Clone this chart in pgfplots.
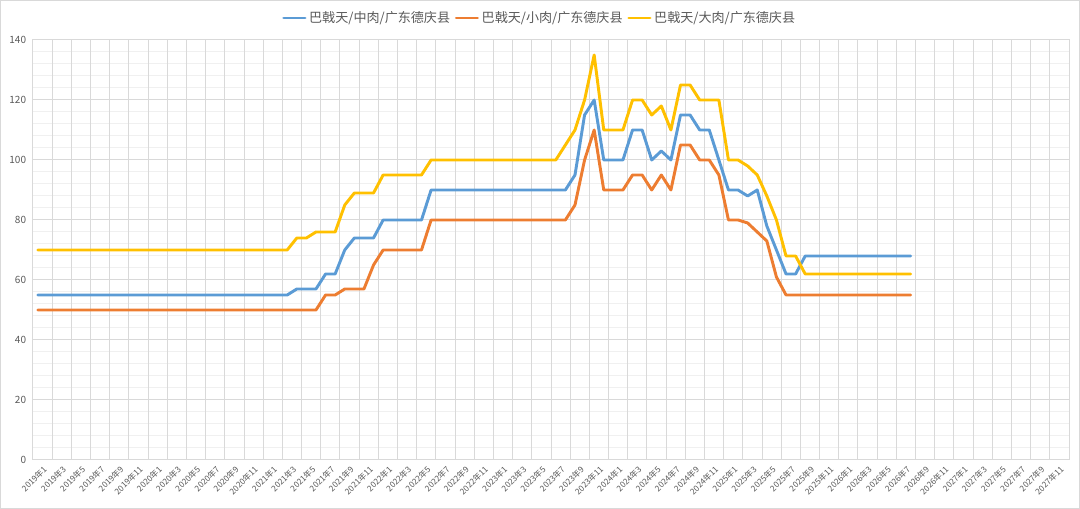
\documentclass[border=0pt]{standalone}
\usepackage{fontspec}
\setmainfont{Noto Sans CJK SC}
\usepackage{pgfplots}
\pgfplotsset{compat=1.18}
\usepackage{pgfplotstable}
\definecolor{cblue}{HTML}{5B9BD5}
\definecolor{corange}{HTML}{ED7D31}
\definecolor{cyellow}{HTML}{FFC000}
\definecolor{gridc}{HTML}{D9D9D9}
\definecolor{mgridc}{HTML}{F0F0F0}
\definecolor{tickc}{HTML}{595959}
\definecolor{borderc}{HTML}{D9D9D9}
\pgfplotstableread{
idx zhong xiao da
0 55 50 70
1 55 50 70
2 55 50 70
3 55 50 70
4 55 50 70
5 55 50 70
6 55 50 70
7 55 50 70
8 55 50 70
9 55 50 70
10 55 50 70
11 55 50 70
12 55 50 70
13 55 50 70
14 55 50 70
15 55 50 70
16 55 50 70
17 55 50 70
18 55 50 70
19 55 50 70
20 55 50 70
21 55 50 70
22 55 50 70
23 55 50 70
24 55 50 70
25 55 50 70
26 55 50 70
27 57 50 74
28 57 50 74
29 57 50 76
30 62 55 76
31 62 55 76
32 70 57 85
33 74 57 89
34 74 57 89
35 74 65 89
36 80 70 95
37 80 70 95
38 80 70 95
39 80 70 95
40 80 70 95
41 90 80 100
42 90 80 100
43 90 80 100
44 90 80 100
45 90 80 100
46 90 80 100
47 90 80 100
48 90 80 100
49 90 80 100
50 90 80 100
51 90 80 100
52 90 80 100
53 90 80 100
54 90 80 100
55 90 80 105
56 95 85 110
57 115 100 120
58 120 110 135
59 100 90 110
60 100 90 110
61 100 90 110
62 110 95 120
63 110 95 120
64 100 90 115
65 103 95 118
66 100 90 110
67 115 105 125
68 115 105 125
69 110 100 120
70 110 100 120
71 100 95 120
72 90 80 100
73 90 80 100
74 88 79 98
75 90 76 95
76 78 73 88
77 70 61 80
78 62 55 68
79 62 55 68
80 68 55 62
81 68 55 62
82 68 55 62
83 68 55 62
84 68 55 62
85 68 55 62
86 68 55 62
87 68 55 62
88 68 55 62
89 68 55 62
90 68 55 62
91 68 55 62
}\pricetable
\begin{document}
\begin{tikzpicture}
\useasboundingbox (-24.75pt,-36.75pt) rectangle (785.25pt,345pt);
\draw[color=borderc, line width=0.75pt] (-24.375pt,-36.375pt) rectangle (784.875pt,344.625pt);
\begin{axis}[
  at={(0pt,0pt)}, anchor=south west,
  scale only axis, width=777pt, height=315pt,
  xmin=-0.5, xmax=107.5, ymin=0, ymax=140,
  axis line style={draw=gridc, line width=0.75pt},
  major tick length=0pt, minor tick length=0pt,
  ytick={0,20,...,140},
  minor y tick num=4,
  ymajorgrids=true, yminorgrids=true,
  major grid style={draw=gridc, line width=0.75pt},
  minor grid style={draw=mgridc, line width=0.75pt},
  xtick={0,2,...,106},
  xticklabels={2019年1,2019年3,2019年5,2019年7,2019年9,2019年11,
    2020年1,2020年3,2020年5,2020年7,2020年9,2020年11,
    2021年1,2021年3,2021年5,2021年7,2021年9,2021年11,
    2022年1,2022年3,2022年5,2022年7,2022年9,2022年11,
    2023年1,2023年3,2023年5,2023年7,2023年9,2023年11,
    2024年1,2024年3,2024年5,2024年7,2024年9,2024年11,
    2025年1,2025年3,2025年5,2025年7,2025年9,2025年11,
    2026年1,2026年3,2026年5,2026年7,2026年9,2026年11,
    2027年1,2027年3,2027年5,2027年7,2027年9,2027年11},
  extra x ticks={1.5,3.5,...,105.5},
  extra x tick labels={},
  extra x tick style={xmajorgrids=true, major grid style={draw=gridc, line width=0.75pt}},
  /pgf/number format/assume math mode=true,
  yticklabel style={font=\fontsize{7.5}{9}\selectfont, text=tickc, anchor=east, inner sep=0pt, xshift=-5pt},
  xticklabel style={font=\fontsize{6.2}{7}\selectfont, text=tickc, rotate=45, anchor=north east, inner sep=0pt, yshift=-5pt},
  legend columns=3,
  legend style={at={(0.4894,1.0524)}, anchor=center, draw=none, fill=none,
    font=\fontsize{9.8}{12}\selectfont, text=tickc,
    /tikz/every even column/.append style={column sep=1.5pt}},
  legend image code/.code={\draw[#1] (0pt,0pt) -- (16pt,0pt);},
  every axis plot/.append style={line width=2.2pt, line join=round, line cap=round},
]
\addplot[color=cblue] table[x=idx, y=zhong] {\pricetable};
\addlegendentry{巴戟天/中肉/广东德庆县}
\addplot[color=corange] table[x=idx, y=xiao] {\pricetable};
\addlegendentry{巴戟天/小肉/广东德庆县}
\addplot[color=cyellow] table[x=idx, y=da] {\pricetable};
\addlegendentry{巴戟天/大肉/广东德庆县}
\end{axis}
\end{tikzpicture}
\end{document}
